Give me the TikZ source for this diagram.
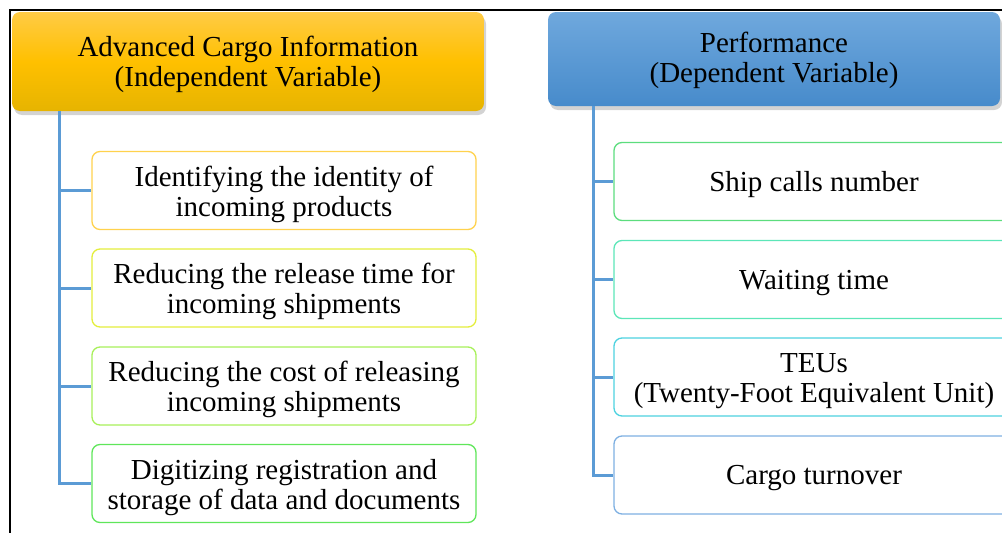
\documentclass[tikz,border=0pt]{standalone}
\usepackage{fontspec}
\setmainfont{Liberation Serif}
\usetikzlibrary{shadows}
\definecolor{linkblue}{HTML}{5B9BD5}
\definecolor{yTop}{HTML}{FFCB45}
\definecolor{yMid}{HTML}{FFC000}
\definecolor{yBot}{HTML}{E6B400}
\definecolor{bTop}{HTML}{6FA8DD}
\definecolor{bBot}{HTML}{478BCB}
\definecolor{cA}{HTML}{FFD24D}
\definecolor{cB}{HTML}{E4EE3C}
\definecolor{cC}{HTML}{A8F05A}
\definecolor{cD}{HTML}{5FE65A}
\definecolor{cE}{HTML}{5CDD7E}
\definecolor{cF}{HTML}{5CE6B8}
\definecolor{cG}{HTML}{4DD2E0}
\definecolor{cH}{HTML}{7EB0E2}
\tikzset{
  headbox/.style={rounded corners=8pt, minimum height=99pt, align=center,
    font=\fontsize{29}{30}\selectfont, inner sep=0pt,
    drop shadow={shadow xshift=2pt, shadow yshift=-4pt, opacity=0.35}},
  itembox/.style={rounded corners=8pt, draw, line width=1.3pt, fill=white,
    minimum height=78pt, align=center, font=\fontsize{29}{30}\selectfont, inner sep=0pt},
  twoline/.style={text height=58pt, text depth=6.4pt},
  oneline/.style={text height=26pt, text depth=6.4pt},
  link/.style={draw=linkblue, line width=3pt}
}
\begin{document}
\begin{tikzpicture}[x=1pt,y=-1pt]
\useasboundingbox (0,0) rectangle (1002,533);
\clip (0,0) rectangle (1002,533);
\draw[line width=2.2pt] (10,533) -- (10,10) -- (1010,10);
% headers
\node[headbox, top color=yTop, bottom color=yBot, middle color=yMid, minimum width=472pt, minimum height=99pt, text depth=1pt] (h1) at (248,61.5) {Advanced Cargo Information\\(Independent Variable)};
\node[headbox, top color=bTop, bottom color=bBot, minimum width=452pt, minimum height=94pt, text height=54pt, text depth=7pt] (h2) at (774,59) {Performance\\(Dependent Variable)};
% left items
\node[itembox, twoline, draw=cA, minimum width=384pt] (l1) at (284,190.5) {Identifying the identity of\\incoming products};
\node[itembox, twoline, draw=cB, minimum width=384pt] (l2) at (284,288) {Reducing the release time for\\incoming shipments};
\node[itembox, twoline, draw=cC, minimum width=384pt] (l3) at (284,386) {Reducing the cost of releasing\\incoming shipments};
\node[itembox, twoline, draw=cD, minimum width=384pt] (l4) at (284,483.5) {Digitizing registration and\\storage of data and documents};
% right items
\node[itembox, oneline, draw=cE, minimum width=400pt] (r1) at (814,181.5) {Ship calls number};
\node[itembox, oneline, draw=cF, minimum width=400pt] (r2) at (814,279.5) {Waiting time};
\node[itembox, twoline, draw=cG, minimum width=400pt] (r3) at (814,377) {TEUs\\(Twenty-Foot Equivalent Unit)};
\node[itembox, oneline, draw=cH, minimum width=400pt] (r4) at (814,475) {Cargo turnover};
% connectors
\coordinate (t1) at (59,111);
\coordinate (t2) at (593,106);
\draw[link] (t1) |- (l4.west);
\foreach \n in {l1,l2,l3} \draw[link] (t1 |- \n.west) -- (\n.west);
\draw[link] (t2) |- (r4.west);
\foreach \n in {r1,r2,r3} \draw[link] (t2 |- \n.west) -- (\n.west);
\end{tikzpicture}
\end{document}
